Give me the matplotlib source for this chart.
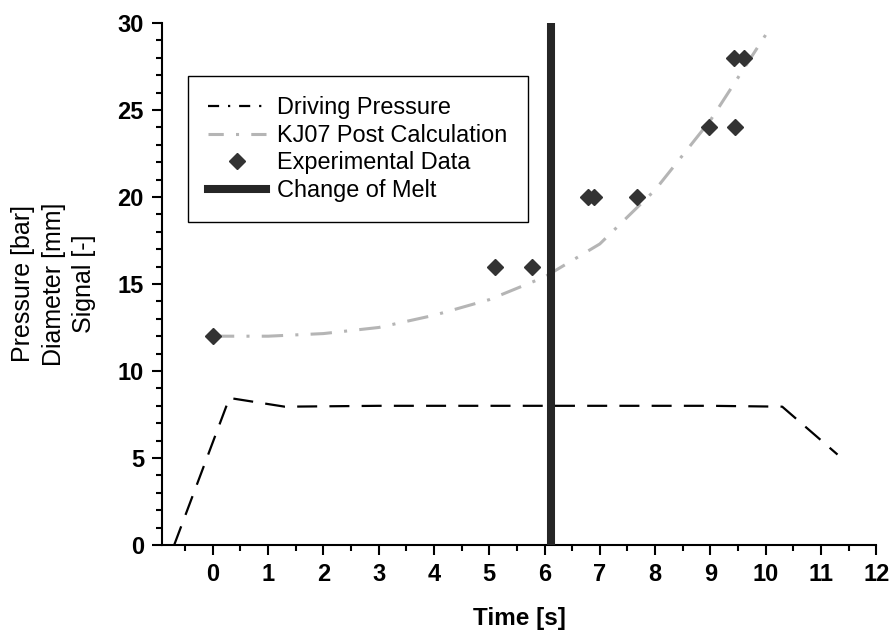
import numpy as np
import matplotlib.pyplot as plt
from matplotlib.lines import Line2D
from matplotlib.ticker import MultipleLocator

plt.rcParams['font.family'] = ['Liberation Sans', 'DejaVu Sans']

# driving pressure curve
drive_t = [-0.7, 0.3, 1.3, 3.0, 6.0, 9.0, 10.3, 11.3]
drive_p = [0.0, 8.45, 7.95, 8.0, 8.0, 8.0, 7.95, 5.2]

# KJ07 post calculation
kj_t = [0.0, 1.0, 2.0, 3.0, 4.0, 5.0, 6.0, 7.0, 8.0, 9.0, 10.1]
kj_d = [12.0, 12.0, 12.15, 12.5, 13.2, 14.1, 15.4, 17.3, 20.4, 24.4, 29.8]

# experimental data
exp_t = [0.0, 5.1, 5.77, 6.78, 6.89, 7.68, 8.98, 9.45, 9.42, 9.6]
exp_d = [12, 16, 16, 20, 20, 20, 24, 24, 28, 28]

melt_t = 6.11

fig, ax = plt.subplots(figsize=(8.95, 6.36), dpi=100)
fig.subplots_adjust(left=0.181, right=0.979, bottom=0.143, top=0.964)

ax.plot(drive_t, drive_p, color='black', lw=1.6, dashes=(9, 5.5), zorder=3)
ax.plot(kj_t, kj_d, color='#b5b5b5', lw=2.2, dashes=(7, 4, 1, 4), zorder=2)
ax.plot(exp_t, exp_d, 'D', color='#333333', ms=8, ls='none', zorder=4)
ax.axvline(melt_t, color='#262626', lw=5.8, zorder=5)

ax.set_xlim(-0.92, 12)
ax.set_ylim(0, 30)
ax.xaxis.set_major_locator(MultipleLocator(1))
ax.xaxis.set_minor_locator(MultipleLocator(0.5))
ax.yaxis.set_major_locator(MultipleLocator(5))
ax.yaxis.set_minor_locator(MultipleLocator(1))
ax.spines['top'].set_visible(False)
ax.spines['right'].set_visible(False)
for s in ('left', 'bottom'):
    ax.spines[s].set_linewidth(1.5)
ax.tick_params(which='major', length=7, width=1.5, direction='out', labelsize=17, pad=6)
ax.tick_params(which='minor', length=4.3, width=1.5, direction='out')
for lab in ax.get_xticklabels() + ax.get_yticklabels():
    lab.set_fontweight('bold')

ax.set_xlabel('Time [s]', fontsize=17.5, fontweight='bold', labelpad=15)
ax.set_ylabel('Pressure [bar]\nDiameter [mm]\nSignal [-]', fontsize=18,
              linespacing=1.35)
ax.yaxis.set_label_coords(-0.092, 0.5)

handles = [
    Line2D([], [], color='black', lw=1.6, dashes=(5, 4, 1, 4)),
    Line2D([], [], color='#b5b5b5', lw=2.2, dashes=(5, 4, 1, 4)),
    Line2D([], [], marker='D', color='#333333', ms=8, ls='none'),
    Line2D([], [], color='#262626', lw=5.8),
]
labels = ['Driving Pressure', 'KJ07 Post Calculation', 'Experimental Data', 'Change of Melt']
leg = ax.legend(handles, labels, loc='upper left', bbox_to_anchor=(0.036, 0.898),
                borderaxespad=0, fancybox=False, edgecolor='black', fontsize=16.9,
                handlelength=2.5, handletextpad=0.47, labelspacing=0.2,
                borderpad=0.85, framealpha=1)
leg.get_frame().set_linewidth(1.0)

fig.savefig('out.png', dpi=100)
